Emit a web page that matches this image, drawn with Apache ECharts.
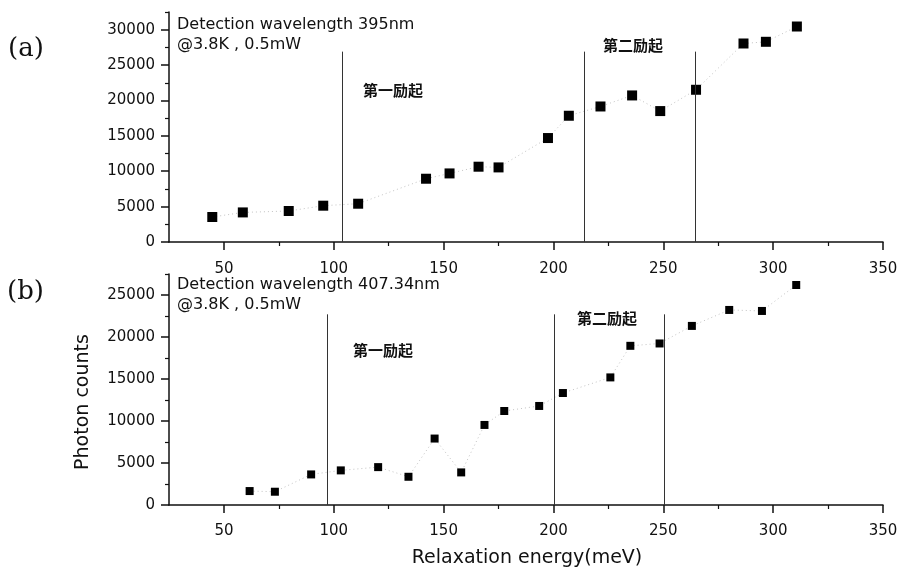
<!DOCTYPE html>
<html><head><meta charset="utf-8">
<script src="https://cdn.jsdelivr.net/npm/echarts@6/dist/echarts.min.js"></script>
<style>html,body{margin:0;padding:0;background:#fff}#c{width:901px;height:569px}</style>
</head><body><div id="c"></div><script>
// ---- data ----
const energyA = [44.7, 58.6, 79.5, 95.2, 111.1, 142.0, 152.7, 165.9, 175.0, 197.5, 207.0, 221.4, 235.8, 248.6, 264.9, 286.5, 296.7, 310.8];
const countsA = [3530, 4180, 4380, 5130, 5410, 8940, 9690, 10640, 10540, 14690, 17840, 19150, 20710, 18500, 21510, 28050, 28290, 30450];
const energyB = [61.7, 73.2, 89.7, 103.2, 120.2, 134.0, 145.9, 158.0, 168.6, 177.6, 193.5, 204.3, 225.9, 235.0, 248.3, 263.0, 280.0, 294.9, 310.5];
const countsB = [1660, 1580, 3640, 4120, 4510, 3360, 7910, 3880, 9530, 11190, 11790, 13330, 15190, 18950, 19230, 21320, 23220, 23100, 26190];
const excitationLinesA = [103.8, 214.1, 264.7];
const excitationTopA = 26900;
const excitationLinesB = [97.0, 200.5, 250.5];
const excitationTopB = 22700;
const xRange = [25, 350];
const xMajorTicks = [50, 100, 150, 200, 250, 300, 350];
const xMinorTicks = [75, 125, 175, 225, 275, 325];
const yRangeA = [0, 32500];
const yMajorTicksA = [0, 5000, 10000, 15000, 20000, 25000, 30000];
const yMinorTicksA = [2500, 7500, 12500, 17500, 22500, 27500, 32500];
const yRangeB = [0, 27500];
const yMajorTicksB = [0, 5000, 10000, 15000, 20000, 25000];
const yMinorTicksB = [2500, 7500, 12500, 17500, 22500, 27500];
const xTitle = 'Relaxation energy(meV)';
const yTitle = 'Photon counts';
const noteA = ['Detection wavelength 395nm', '@3.8K , 0.5mW'];
const noteB = ['Detection wavelength 407.34nm', '@3.8K , 0.5mW'];
const exc1 = '第一励起', exc2 = '第二励起';

// ---- chart ----
const FONT = 'DejaVu Sans';
const INK = '#111';
const plain = v => String(v);
function mainX(g, margin) {
  return { type: 'value', gridIndex: g, min: xRange[0], max: xRange[1], position: 'bottom',
    axisLine: { show: true, onZero: false, lineStyle: { color: INK, width: 1.5 } },
    axisTick: { show: true, customValues: xMajorTicks, length: 8, lineStyle: { color: INK, width: 1.5 } },
    axisLabel: { customValues: xMajorTicks, formatter: plain, margin: margin, color: INK, fontFamily: FONT, fontSize: 15 },
    splitLine: { show: false } };
}
function minorX(g) {
  return { type: 'value', gridIndex: g, min: xRange[0], max: xRange[1], position: 'bottom',
    axisLine: { show: false, onZero: false },
    axisTick: { show: true, customValues: xMinorTicks, length: 4, lineStyle: { color: INK, width: 1.2 } },
    axisLabel: { show: false }, splitLine: { show: false } };
}
function mainY(g, range, majors) {
  return { type: 'value', gridIndex: g, min: range[0], max: range[1], position: 'left',
    axisLine: { show: true, onZero: false, lineStyle: { color: INK, width: 1.5 } },
    axisTick: { show: true, customValues: majors, length: 8, lineStyle: { color: INK, width: 1.5 } },
    axisLabel: { customValues: majors, formatter: plain, margin: 14, color: INK, fontFamily: FONT, fontSize: 15 },
    splitLine: { show: false } };
}
function minorY(g, range, minors) {
  return { type: 'value', gridIndex: g, min: range[0], max: range[1], position: 'left',
    axisLine: { show: false, onZero: false },
    axisTick: { show: true, customValues: minors, length: 4, lineStyle: { color: INK, width: 1.2 } },
    axisLabel: { show: false }, splitLine: { show: false } };
}
function pts(xs, ys) { return xs.map((x, i) => [x, ys[i]]); }
function series(xi, yi, xs, ys, lines, top, size) {
  return { type: 'line', xAxisIndex: xi, yAxisIndex: yi, data: pts(xs, ys),
    symbol: 'rect', symbolSize: size, showSymbol: true,
    itemStyle: { color: '#000' },
    lineStyle: { color: '#c4c4c4', width: 1, type: [1, 3] },
    silent: true, animation: false,
    markLine: { silent: true, symbol: ['none', 'none'], label: { show: false }, animation: false,
      lineStyle: { color: '#333', width: 1, type: 'solid' },
      data: lines.map(x => [{ coord: [x, 0] }, { coord: [x, top] }]) } };
}
function txt(x, y, s, size, opts) {
  return { type: 'text', x: x, y: y, style: { text: s, fill: INK,
    font: (opts && opts.weight ? opts.weight + ' ' : '') + size + 'px ' + (opts && opts.family ? opts.family : FONT),
    textVerticalAlign: 'middle', textAlign: (opts && opts.align) || 'left' } };
}
const CJK = '"Noto Sans CJK JP"';
const option = {
  backgroundColor: '#fff',
  animation: false,
  grid: [
    { left: 169, right: 18, top: 12, bottom: 327 },
    { left: 169, right: 18, top: 274, bottom: 64 }
  ],
  xAxis: [mainX(0, 20), minorX(0), mainX(1, 19), minorX(1)],
  yAxis: [mainY(0, yRangeA, yMajorTicksA), minorY(0, yRangeA, yMinorTicksA), mainY(1, yRangeB, yMajorTicksB), minorY(1, yRangeB, yMinorTicksB)],
  series: [
    series(0, 0, energyA, countsA, excitationLinesA, excitationTopA, 10),
    series(2, 2, energyB, countsB, excitationLinesB, excitationTopB, 8)
  ],
  graphic: [
    txt(8, 49, '(a)', 26, { family: '"DejaVu Serif"' }),
    txt(7, 292, '(b)', 26, { family: '"DejaVu Serif"' }),
    txt(177, 25, noteA[0], 16),
    txt(177, 45, noteA[1], 16),
    txt(177, 285, noteB[0], 16),
    txt(177, 305, noteB[1], 16),
    txt(363, 90, exc1, 15, { family: CJK, weight: 'bold' }),
    txt(603, 45, exc2, 15, { family: CJK, weight: 'bold' }),
    txt(353, 350, exc1, 15, { family: CJK, weight: 'bold' }),
    txt(577, 318, exc2, 15, { family: CJK, weight: 'bold' }),
    txt(527, 558, xTitle, 19, { align: 'center' }),
    { type: 'text', x: 83, y: 402, rotation: Math.PI / 2,
      style: { text: yTitle, fill: INK, font: '19px ' + FONT, textAlign: 'center', textVerticalAlign: 'middle' } }
  ]
};
const chart = echarts.init(document.getElementById('c'));
chart.setOption(option);
</script></body></html>
